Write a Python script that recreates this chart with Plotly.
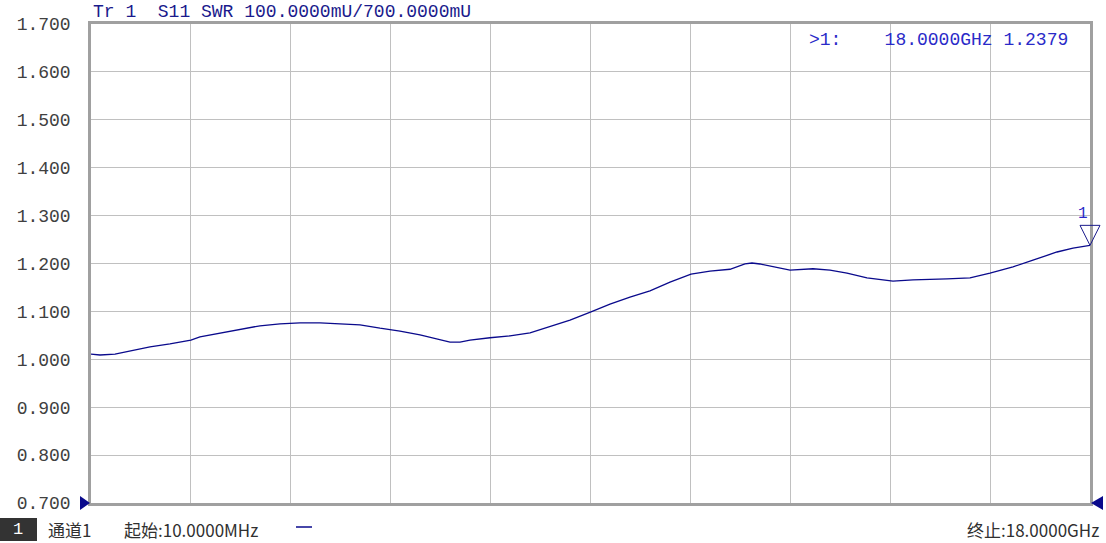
import plotly.graph_objects as go

# Frequency (GHz) and SWR values
freq_ghz = [0.010, 0.172, 0.442, 0.712, 1.072, 1.432, 1.809, 1.972, 2.333, 2.693,
            3.053, 3.413, 3.774, 4.134, 4.494, 4.854, 5.214, 5.574, 5.935, 6.295,
            6.475, 6.655, 6.835, 7.195, 7.555, 7.916, 8.276, 8.636, 9.014, 9.356,
            9.716, 10.076, 10.437, 10.815, 11.157, 11.517, 11.787, 11.913, 12.057, 12.237,
            12.417, 12.598, 13.012, 13.318, 13.624, 13.984, 14.452, 14.813, 15.425, 15.839,
            16.199, 16.613, 16.973, 17.406, 17.694, 18.000]
swr = [1.011, 1.009, 1.011, 1.017, 1.026, 1.032, 1.040, 1.047, 1.055, 1.063,
       1.070, 1.074, 1.076, 1.076, 1.074, 1.072, 1.065, 1.059, 1.051, 1.040,
       1.036, 1.036, 1.040, 1.045, 1.049, 1.055, 1.068, 1.082, 1.099, 1.115,
       1.130, 1.143, 1.161, 1.178, 1.184, 1.188, 1.199, 1.201, 1.199, 1.195,
       1.190, 1.186, 1.189, 1.186, 1.180, 1.170, 1.163, 1.166, 1.168, 1.170,
       1.180, 1.193, 1.207, 1.224, 1.232, 1.2379]

y_ticks = [0.7, 0.8, 0.9, 1.0, 1.1, 1.2, 1.3, 1.4, 1.5, 1.6, 1.7]
y_tick_labels = [f"{v:.3f}" for v in y_ticks]

header_text = "Tr 1\u00a0\u00a0S11 SWR 100.0000mU/700.0000mU"
marker_text = ">1:\u00a0\u00a0\u00a0\u00a018.0000GHz 1.2379"
channel_text = "通道1"
start_text = "起始:10.0000MHz"
stop_text = "终止:18.0000GHz"

f_start, f_stop = 0.010, 18.000
y_min, y_max = 0.7, 1.7
n_div = 10

mono = "Liberation Mono"
cjk = "Noto Sans CJK SC"
navy = "#0a0a8c"
grid = "#c0c0c0"

PW, PH = 999, 479  # plot area size in px


def px_x(px):
    return (px - 91) / PW


def px_y(py):
    return (503 - py) / PH


def yfrac(v):
    return (v - y_min) / (y_max - y_min)


fig = go.Figure()
fig.add_trace(go.Scatter(x=freq_ghz, y=swr, mode="lines",
                         line=dict(color=navy, width=1.3), hoverinfo="skip",
                         showlegend=False))

fig.update_layout(
    width=1106, height=543,
    margin=dict(l=91, r=16, t=24, b=40, pad=0),
    paper_bgcolor="white", plot_bgcolor="white",
    xaxis=dict(range=[f_start, f_stop], tick0=f_start, automargin=False,
               dtick=(f_stop - f_start) / n_div, showticklabels=False,
               showgrid=True, gridcolor=grid, gridwidth=1.3, zeroline=False,
               showline=True, linecolor="#a0a0a0", linewidth=2.5, mirror=True,
               ticks=""),
    yaxis=dict(range=[y_min, y_max], tickvals=y_ticks, ticktext=y_tick_labels,
               automargin=False,
               showgrid=True, gridcolor=grid, gridwidth=1.3, zeroline=False,
               showline=True, linecolor="#a0a0a0", linewidth=2.5, mirror=True,
               ticks="", ticklabelstandoff=14,
               tickfont=dict(family=mono, size=18, color="#404040")),
)

# Header
fig.add_annotation(xref="paper", yref="paper", x=0, y=px_y(12),
                   xanchor="left", yanchor="middle", showarrow=False,
                   text=header_text, font=dict(family=mono, size=18, color="#1a1a8c"))
# Marker readout
fig.add_annotation(xref="paper", yref="paper", x=px_x(1070), y=px_y(40),
                   xanchor="right", yanchor="middle", showarrow=False,
                   text=marker_text, font=dict(family=mono, size=18, color="#2a2ac8"))

# Marker triangle at the last point (paper refs so it is not clipped)
mx = (freq_ghz[-1] - f_start) / (f_stop - f_start)
my = yfrac(swr[-1])
fig.add_shape(type="path", xref="paper", yref="paper", xsizemode="pixel", ysizemode="pixel",
              xanchor=mx, yanchor=my,
              path="M -10 20 L 10 20 L 0 0 Z",
              line=dict(color="#1a1a8c", width=1), fillcolor="rgba(0,0,0,0)")
fig.add_annotation(xref="paper", yref="paper", x=mx, y=my, yshift=31,
                   showarrow=False, text="1",
                   font=dict(family=mono, size=16, color="#2a2ac8"))

# Reference triangles at the bottom edges
fig.add_shape(type="path", xref="paper", yref="paper", xsizemode="pixel", ysizemode="pixel",
              xanchor=0, yanchor=0, path="M -11 7 L -1 0 L -11 -7 Z",
              line=dict(color=navy, width=0), fillcolor=navy)
fig.add_shape(type="path", xref="paper", yref="paper", xsizemode="pixel", ysizemode="pixel",
              xanchor=1, yanchor=0, path="M 13 7 L 1 0 L 13 -7 Z",
              line=dict(color=navy, width=0), fillcolor=navy)

# Bottom status bar
yb = px_y(529)
fig.add_shape(type="rect", xref="paper", yref="paper",
              x0=px_x(0), x1=px_x(37), y0=px_y(541), y1=px_y(518),
              line=dict(width=0), fillcolor="#333333")
fig.add_annotation(xref="paper", yref="paper", x=px_x(18), y=yb, showarrow=False,
                   text="1", font=dict(family=mono, size=17, color="white"),
                   xanchor="center", yanchor="middle")
fig.add_annotation(xref="paper", yref="paper", x=px_x(46), y=yb, showarrow=False,
                   text=channel_text, font=dict(family=cjk, size=17, color="#303030"),
                   xanchor="left", yanchor="middle")
fig.add_annotation(xref="paper", yref="paper", x=px_x(122), y=yb, showarrow=False,
                   text=start_text, font=dict(family=cjk, size=17, color="#303030"),
                   xanchor="left", yanchor="middle")
fig.add_shape(type="line", xref="paper", yref="paper",
              x0=px_x(296), x1=px_x(312), y0=px_y(527), y1=px_y(527),
              line=dict(color=navy, width=1.5))
fig.add_annotation(xref="paper", yref="paper", x=px_x(1101), y=yb, showarrow=False,
                   text=stop_text, font=dict(family=cjk, size=17, color="#303030"),
                   xanchor="right", yanchor="middle")

fig.write_html("out.html", config={"displayModeBar": False},
               post_script="document.body.style.margin='0';document.body.style.overflow='hidden';")
